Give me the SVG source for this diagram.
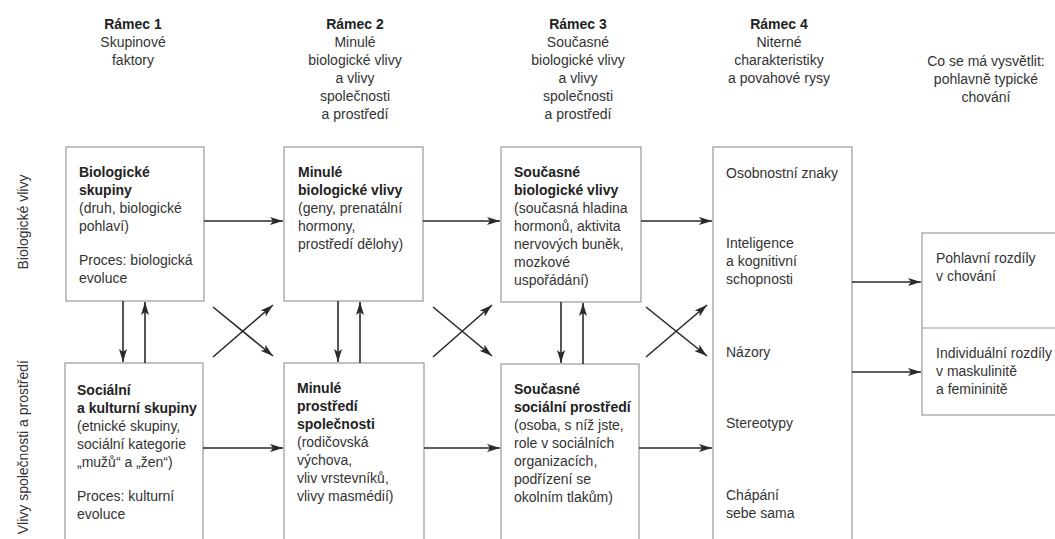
<svg xmlns="http://www.w3.org/2000/svg" width="1055" height="539" viewBox="0 0 1055 539">
<style>
text{font-family:"Liberation Sans",Arial,sans-serif;font-size:14px;fill:#333}
.b{font-weight:bold;fill:#222}
.h{text-anchor:middle}
.box{fill:#fff;stroke:#999;stroke-width:1.2}
.ar{stroke:#2a2a2a;stroke-width:1.6;fill:none;marker-end:url(#ah)}
</style>
<defs>
<marker id="ah" viewBox="0 0 13 8" refX="13" refY="4" markerWidth="13" markerHeight="8" markerUnits="userSpaceOnUse" orient="auto">
<path d="M0,0 L13,4 L0,8 L3,4 Z" fill="#2a2a2a"/>
</marker>
</defs>
<rect width="1055" height="539" fill="#fff"/>

<g id="headers">
<text x="133" y="29" class="h b">Rámec 1</text>
<text x="133" y="47" class="h">Skupinové</text>
<text x="133" y="65" class="h">faktory</text>
<text x="355" y="29" class="h b">Rámec 2</text>
<text x="355" y="47" class="h">Minulé</text>
<text x="355" y="65" class="h">biologické vlivy</text>
<text x="355" y="83" class="h">a vlivy</text>
<text x="355" y="101" class="h">společnosti</text>
<text x="355" y="119" class="h">a prostředí</text>
<text x="578" y="29" class="h b">Rámec 3</text>
<text x="578" y="47" class="h">Současné</text>
<text x="578" y="65" class="h">biologické vlivy</text>
<text x="578" y="83" class="h">a vlivy</text>
<text x="578" y="101" class="h">společnosti</text>
<text x="578" y="119" class="h">a prostředí</text>
<text x="779" y="29" class="h b">Rámec 4</text>
<text x="779" y="47" class="h">Niterné</text>
<text x="779" y="65" class="h">charakteristiky</text>
<text x="779" y="83" class="h">a povahové rysy</text>
<text x="986" y="66" class="h">Co se má vysvětlit:</text>
<text x="986" y="84" class="h">pohlavně typické</text>
<text x="986" y="102" class="h">chování</text>
</g>

<g id="side-labels">
<text transform="translate(28,222) rotate(-90)" class="h">Biologické vlivy</text>
<text transform="translate(28,360) rotate(-90)" text-anchor="end">Vlivy společnosti a prostředí</text>
</g>

<g id="bio-groups">
<rect class="box" x="66" y="147" width="138" height="154"/>
<text x="79" y="177" class="b">Biologické</text>
<text x="79" y="195" class="b">skupiny</text>
<text x="79" y="213">(druh, biologické</text>
<text x="79" y="231">pohlaví)</text>
<text x="79" y="265">Proces: biologická</text>
<text x="79" y="283">evoluce</text>
</g>

<g id="past-bio">
<rect class="box" x="284" y="147" width="139" height="154"/>
<text x="298" y="177" class="b">Minulé</text>
<text x="298" y="195" class="b">biologické vlivy</text>
<text x="298" y="213">(geny, prenatální</text>
<text x="298" y="231">hormony,</text>
<text x="298" y="249">prostředí dělohy)</text>
</g>

<g id="current-bio">
<rect class="box" x="501" y="147" width="140" height="155"/>
<text x="514" y="177" class="b">Současné</text>
<text x="514" y="195" class="b">biologické vlivy</text>
<text x="514" y="213">(současná hladina</text>
<text x="514" y="231">hormonů, aktivita</text>
<text x="514" y="249">nervových buněk,</text>
<text x="514" y="267">mozkové</text>
<text x="514" y="285">uspořádání)</text>
</g>

<g id="social-groups">
<rect class="box" x="65" y="363" width="138" height="200"/>
<text x="77" y="395" class="b">Sociální</text>
<text x="77" y="413" class="b">a kulturní skupiny</text>
<text x="77" y="431">(etnické skupiny,</text>
<text x="77" y="449">sociální kategorie</text>
<text x="77" y="467">„mužů“ a „žen“)</text>
<text x="77" y="501">Proces: kulturní</text>
<text x="77" y="519">evoluce</text>
</g>

<g id="past-social">
<rect class="box" x="284" y="363" width="140" height="200"/>
<text x="297" y="393" class="b">Minulé</text>
<text x="297" y="411" class="b">prostředí</text>
<text x="297" y="429" class="b">společnosti</text>
<text x="297" y="447">(rodičovská</text>
<text x="297" y="465">výchova,</text>
<text x="297" y="483">vliv vrstevníků,</text>
<text x="297" y="501">vlivy masmédií)</text>
</g>

<g id="current-social">
<rect class="box" x="501" y="364" width="138" height="200"/>
<text x="514" y="394" class="b">Současné</text>
<text x="514" y="412" class="b">sociální prostředí</text>
<text x="514" y="430">(osoba, s níž jste,</text>
<text x="514" y="448">role v sociálních</text>
<text x="514" y="466">organizacích,</text>
<text x="514" y="484">podřízení se</text>
<text x="514" y="502">okolním tlakům)</text>
</g>

<g id="traits">
<rect class="box" x="713" y="147" width="139" height="420"/>
<text x="726" y="178">Osobnostní znaky</text>
<text x="726" y="248">Inteligence</text>
<text x="726" y="266">a kognitivní</text>
<text x="726" y="284">schopnosti</text>
<text x="726" y="357">Názory</text>
<text x="726" y="428">Stereotypy</text>
<text x="726" y="500">Chápání</text>
<text x="726" y="518">sebe sama</text>
</g>

<g id="outcomes">
<rect class="box" x="922" y="233" width="150" height="182"/>
<line x1="922" y1="328" x2="1072" y2="328" stroke="#999" stroke-width="1.2"/>
<text x="936" y="263">Pohlavní rozdíly</text>
<text x="936" y="281">v chování</text>
<text x="936" y="358">Individuální rozdíly</text>
<text x="936" y="376">v maskulinitě</text>
<text x="936" y="394">a femininitě</text>
</g>

<g id="connectors">
<line class="ar" x1="204" y1="221" x2="283" y2="221"/>
<line class="ar" x1="423" y1="221" x2="500" y2="221"/>
<line class="ar" x1="641" y1="221" x2="712" y2="221"/>
<line class="ar" x1="203" y1="448" x2="283" y2="448"/>
<line class="ar" x1="424" y1="448" x2="500" y2="448"/>
<line class="ar" x1="639" y1="448" x2="712" y2="448"/>
<line class="ar" x1="852" y1="282" x2="921" y2="282"/>
<line class="ar" x1="852" y1="372" x2="921" y2="372"/>
<line class="ar" x1="123" y1="301" x2="123" y2="362"/>
<line class="ar" x1="145" y1="363" x2="145" y2="302"/>
<line class="ar" x1="338" y1="301" x2="338" y2="362"/>
<line class="ar" x1="360" y1="363" x2="360" y2="302"/>
<line class="ar" x1="561" y1="302" x2="561" y2="363"/>
<line class="ar" x1="583" y1="364" x2="583" y2="303"/>
<line class="ar" x1="213" y1="307" x2="273" y2="356"/>
<line class="ar" x1="213" y1="357" x2="273" y2="305"/>
<line class="ar" x1="433" y1="307" x2="492" y2="356"/>
<line class="ar" x1="433" y1="357" x2="492" y2="305"/>
<line class="ar" x1="646" y1="307" x2="707" y2="356"/>
<line class="ar" x1="646" y1="357" x2="707" y2="305"/>
</g>
</svg>
